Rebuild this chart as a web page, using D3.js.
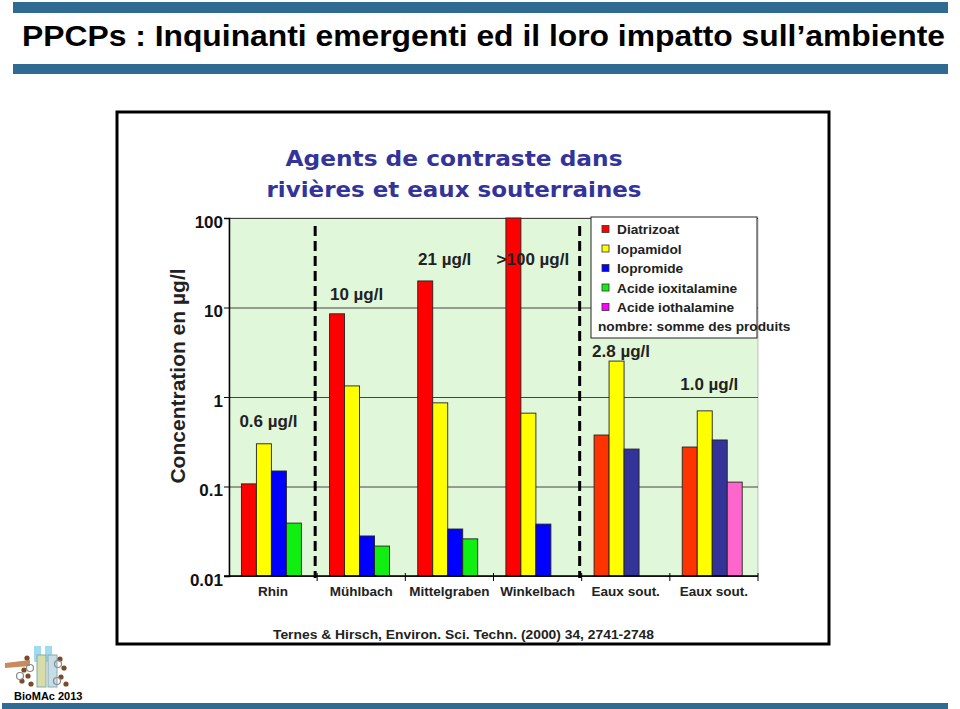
<!DOCTYPE html>
<html lang="it">
	<head>
		<meta charset="utf-8">
		<title>PPCPs : Inquinanti emergenti</title>
		<script type="text/javascript" src="https://cdn.jsdelivr.net/npm/d3@7"></script>
		<style type="text/css">
			html, body { margin: 0; padding: 0; overflow: hidden; background: #fff; }
			svg { display: block; font-family: "Liberation Sans", Arial, sans-serif; }
		</style>
	</head>
	<body>
		<script type="text/javascript">
			// data (µg/l, log axis)
			var categories = ["Rhin", "Mühlbach", "Mittelgraben", "Winkelbach", "Eaux sout.", "Eaux sout."];
			var groundwater = [false, false, false, false, true, true];

			var seriesNames = ["Diatrizoat", "Iopamidol", "Iopromide", "Acide ioxitalamine", "Acide iothalamine"];
			var diatrizoat   = [0.107, 8.5, 19.8, 100, 0.376, 0.276];
			var iopamidol    = [0.30, 1.33, 0.86, 0.66, 2.52, 0.70];
			var iopromide    = [0.149, 0.028, 0.0335, 0.038, 0.262, 0.331];
			var ioxitalamine = [0.039, 0.0216, 0.026, null, null, null];
			var iothalamine  = [null, null, null, null, null, 0.112];
			// 4th slot is shared by the two "acide" products
			var seriesSlot = [0, 1, 2, 3, 3];

			var totals = ["0.6 µg/l", "10 µg/l", "21 µg/l", ">100 µg/l", "2.8 µg/l", "1.0 µg/l"];
			var totalLevels = [0.46, 12, 30, 30, 2.8, 1.2];

			var yTicks = [0.01, 0.1, 1, 10, 100];
			var yTickLabels = ["0.01", "0.1", "1", "10", "100"];

			var riverColors = ["#ff0000", "#ffff00", "#0000ff", "#11ee11", "#ff00ff"];
			var groundColors = ["#ff3300", "#ffff00", "#333399", "#11ee11", "#ff66cc"];

			var w = 960, h = 709;
			var pLeft = 229, pRight = 758, pTop = 218, pBottom = 576;

			var svg = d3.select("body").append("svg")
				.attr("width", w)
				.attr("height", h)
				.attr("viewBox", "0 0 " + w + " " + h);

			svg.append("text")
				.attr("x", 22).attr("y", 46)
				.attr("textLength", 923).attr("lengthAdjust", "spacingAndGlyphs")
				.style("font-family", "'Liberation Sans Narrow', 'Arial Narrow', 'Liberation Sans', sans-serif")
				.style("font-weight", "bold").style("font-size", "29px")
				.text("PPCPs : Inquinanti emergenti ed il loro impatto sull’ambiente");

			// picture frame
			svg.append("rect")
				.attr("x", 117).attr("y", 112).attr("width", 712).attr("height", 532)
				.attr("fill", "#fff").attr("stroke", "#000").attr("stroke-width", 3);

			svg.selectAll(".ctitle")
				.data(["Agents de contraste dans", "rivières et eaux souterraines"])
				.enter().append("text")
				.attr("class", "ctitle")
				.attr("x", 454)
				.attr("y", function(d, i) { return 166 + i * 31; })
				.attr("text-anchor", "middle")
				.attr("textLength", function(d, i) { return i == 0 ? 337 : 375; })
				.attr("lengthAdjust", "spacingAndGlyphs")
				.style("font-family", "'DejaVu Sans', Verdana, sans-serif")
				.style("font-weight", "bold").style("font-size", "22px")
				.attr("fill", "#33339a")
				.text(function(d) { return d; });

			// scales
			var y = d3.scaleLog().domain([0.01, 100]).range([pBottom, pTop]);
			var x = d3.scaleBand().domain(d3.range(categories.length)).range([pLeft, pRight]);
			var xs = d3.scaleBand().domain([0, 1, 2, 3]).range([0, x.bandwidth()])
				.paddingInner(0).paddingOuter(0.94).align(0.44);

			svg.append("rect")
				.attr("x", pLeft).attr("y", pTop).attr("width", pRight - pLeft).attr("height", pBottom - pTop)
				.attr("fill", "#e1f7da").attr("stroke", "#888").attr("stroke-width", 0.5);

			// grid
			svg.append("g")
				.attr("transform", "translate(" + pLeft + ",0)")
				.call(d3.axisLeft(y).tickValues(yTicks).tickSize(-(pRight - pLeft)).tickFormat(""))
				.call(function(g) {
					g.select(".domain").remove();
					g.selectAll("line").attr("stroke", "#444").attr("stroke-width", 1);
				});

			// bars
			var allSeries = [diatrizoat, iopamidol, iopromide, ioxitalamine, iothalamine];
			var bars = [];
			allSeries.forEach(function(vals, s) {
				vals.forEach(function(v, c) {
					if (v != null) bars.push({ c: c, s: s, v: v });
				});
			});

			svg.selectAll("rect.bar")
				.data(bars)
				.enter().append("rect")
				.attr("class", "bar")
				.attr("x", function(d) { return x(d.c) + xs(seriesSlot[d.s]); })
				.attr("y", function(d) { return y(d.v); })
				.attr("width", xs.bandwidth())
				.attr("height", function(d) { return pBottom - y(d.v); })
				.attr("fill", function(d) { return groundwater[d.c] ? groundColors[d.s] : riverColors[d.s]; })
				.attr("stroke", "#222").attr("stroke-width", 0.9);

			// dashed separators
			svg.selectAll("line.sep")
				.data([1, 4])
				.enter().append("line")
				.attr("class", "sep")
				.attr("x1", function(d) { return x(d) - 2; })
				.attr("x2", function(d) { return x(d) - 2; })
				.attr("y1", pTop + 8).attr("y2", pBottom + 2)
				.attr("stroke", "#000").attr("stroke-width", 3)
				.attr("stroke-dasharray", "10,5");

			// axes
			svg.append("g")
				.attr("transform", "translate(" + pLeft + ",0)")
				.call(d3.axisLeft(y).tickValues(yTicks).tickSize(5).tickPadding(1)
					.tickFormat(function(d, i) { return yTickLabels[i]; }))
				.call(function(g) {
					g.select(".domain").attr("stroke", "#000").attr("stroke-width", 1.5);
					g.selectAll("text").attr("dy", "0.55em").attr("fill", "#111")
						.style("font-size", "17px").style("font-weight", "bold")
						.style("font-family", "'Liberation Sans', Arial, sans-serif");
				});

			svg.append("line")
				.attr("x1", pLeft - 5).attr("x2", pRight).attr("y1", pBottom).attr("y2", pBottom)
				.attr("stroke", "#000").attr("stroke-width", 1.5);

			svg.selectAll("line.xtick")
				.data(d3.range(1, categories.length + 1))
				.enter().append("line")
				.attr("class", "xtick")
				.attr("x1", function(d) { return pLeft + d * x.step(); })
				.attr("x2", function(d) { return pLeft + d * x.step(); })
				.attr("y1", pBottom - 3).attr("y2", pBottom + 5)
				.attr("stroke", "#000").attr("stroke-width", 1);

			svg.selectAll("text.cat")
				.data(categories)
				.enter().append("text")
				.attr("class", "cat")
				.attr("x", function(d, i) { return x(i) + x.bandwidth() / 2; })
				.attr("y", 596)
				.attr("text-anchor", "middle")
				.attr("fill", "#222")
				.style("font-size", "13.5px").style("font-weight", "bold")
				.text(function(d) { return d; });

			svg.append("text")
				.attr("transform", "translate(185,376) rotate(-90)")
				.attr("text-anchor", "middle")
				.attr("fill", "#222")
				.style("font-size", "21px").style("font-weight", "bold")
				.text("Concentration en µg/l");

			// totals above groups
			svg.selectAll("text.total")
				.data(totals)
				.enter().append("text")
				.attr("class", "total")
				.attr("x", function(d, i) { return x(i) + xs(0) + xs.bandwidth() * 2 - 3; })
				.attr("y", function(d, i) { return y(totalLevels[i]); })
				.attr("text-anchor", "middle")
				.attr("fill", "#222")
				.style("font-size", "17px").style("font-weight", "bold")
				.text(function(d) { return d; });

			// legend
			var lg = svg.append("g").attr("transform", "translate(591,217)");
			lg.append("rect").attr("width", 166).attr("height", 121)
				.attr("fill", "#fff").attr("stroke", "#222").attr("stroke-width", 1);
			var item = lg.selectAll("g.item")
				.data(seriesNames)
				.enter().append("g")
				.attr("class", "item")
				.attr("transform", function(d, i) { return "translate(0," + (12 + i * 19.5) + ")"; });
			item.append("rect")
				.attr("x", 11).attr("y", -3.5).attr("width", 7).attr("height", 7)
				.attr("fill", function(d, i) { return riverColors[i]; })
				.attr("stroke", "#333").attr("stroke-width", 0.8);
			item.append("text")
				.attr("x", 26).attr("y", 5)
				.attr("fill", "#222")
				.style("font-size", "13.7px").style("font-weight", "bold")
				.text(function(d) { return d; });
			lg.append("text")
				.attr("x", 7).attr("y", 114)
				.attr("fill", "#222")
				.style("font-size", "13.7px").style("font-weight", "bold")
				.text("nombre: somme des produits");

			svg.append("text")
				.attr("x", 273).attr("y", 639)
				.attr("textLength", 381).attr("lengthAdjust", "spacingAndGlyphs")
				.attr("fill", "#222")
				.style("font-size", "13.5px").style("font-weight", "bold")
				.text("Ternes & Hirsch, Environ. Sci. Techn. (2000) 34, 2741-2748");

			// little logo, bottom left
			var logo = svg.append("g");
			logo.append("path").attr("d", "M5,663 L30,660 L30,666 L5,668 Z").attr("fill", "#c98a5e");
			logo.append("rect").attr("x", 34).attr("y", 646).attr("width", 7).attr("height", 16).attr("fill", "#9fdcf0");
			logo.append("rect").attr("x", 45).attr("y", 646).attr("width", 7).attr("height", 16).attr("fill", "#9fdcf0");
			logo.append("rect").attr("x", 37).attr("y", 655).attr("width", 9).attr("height", 32).attr("fill", "#d7dca8").attr("stroke", "#8aa");
			logo.append("rect").attr("x", 48).attr("y", 655).attr("width", 9).attr("height", 32).attr("fill", "#c6dde8").attr("stroke", "#8aa");
			logo.selectAll("circle.dot")
				.data([[24, 670], [28, 676], [22, 681], [31, 684], [60, 659], [64, 668], [61, 677], [66, 684], [27, 658]])
				.enter().append("circle")
				.attr("class", "dot")
				.attr("cx", function(d) { return d[0]; }).attr("cy", function(d) { return d[1]; })
				.attr("r", 2.6).attr("fill", "#7b4a2a");
			logo.selectAll("circle.ring")
				.data([[30, 668], [58, 664], [57, 681], [20, 676]])
				.enter().append("circle")
				.attr("class", "ring")
				.attr("cx", function(d) { return d[0]; }).attr("cy", function(d) { return d[1]; })
				.attr("r", 3.5).attr("fill", "none").attr("stroke", "#888").attr("stroke-width", 1.2);
			svg.append("text")
				.attr("x", 14).attr("y", 700)
				.style("font-size", "11px").style("font-weight", "bold")
				.text("BioMAc 2013");

			// slide bands drawn last: two round the title, one at the foot
			svg.append("path")
				.attr("d", "M13,2H948V13H13Z M13,64H948V74H13Z M2,703H948V709H2Z")
				.attr("fill", "#2f6a93");
		</script>
	</body>
</html>
